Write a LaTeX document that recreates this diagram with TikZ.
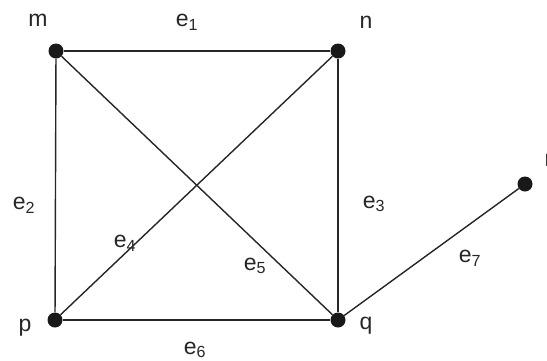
\documentclass[tikz,border=0pt]{standalone}
\usepackage{fontspec}
\setmainfont{Liberation Sans}
\begin{document}
\begin{tikzpicture}[x=1pt,y=-1pt,
  vertex/.style={circle,fill=black!90,inner sep=0pt,minimum size=15pt},
  edge/.style={line width=1.4pt,black!85},
  lbl/.style={font=\fontsize{23}{25}\selectfont,text=black!85,inner sep=0pt}]
\useasboundingbox (0,0) rectangle (547,360);
\node[vertex] (m) at (56,51) {};
\node[vertex] (n) at (338,51) {};
\node[vertex] (p) at (55,320) {};
\node[vertex] (q) at (338,320) {};
\node[vertex] (r) at (525,184) {};
\draw[edge] (m) -- (n);
\draw[edge] (m) -- (p);
\draw[edge] (n) -- (q);
\draw[edge] (p) -- (q);
\draw[edge] (m) -- (q);
\draw[edge] (n) -- (p);
\draw[edge] (q) -- (r);
\node[lbl] (lm) at (38,20) {m};
\node[lbl] (ln) at (366,22) {n};
\node[lbl] (lp) at (25,328) {p};
\node[lbl] (lq) at (366,326) {q};
\node[lbl] (lr) at (548.5,160) {r};
\node[lbl] (e1) at (187,22) {e\textsubscript{1}};
\node[lbl] (e2) at (24,205) {e\textsubscript{2}};
\node[lbl] (e3) at (374,204) {e\textsubscript{3}};
\node[lbl] (e4) at (125,243) {e\textsubscript{4}};
\node[lbl] (e5) at (255,266) {e\textsubscript{5}};
\node[lbl] (e6) at (195,350) {e\textsubscript{6}};
\node[lbl] (e7) at (470,258) {e\textsubscript{7}};
\end{tikzpicture}
\end{document}
